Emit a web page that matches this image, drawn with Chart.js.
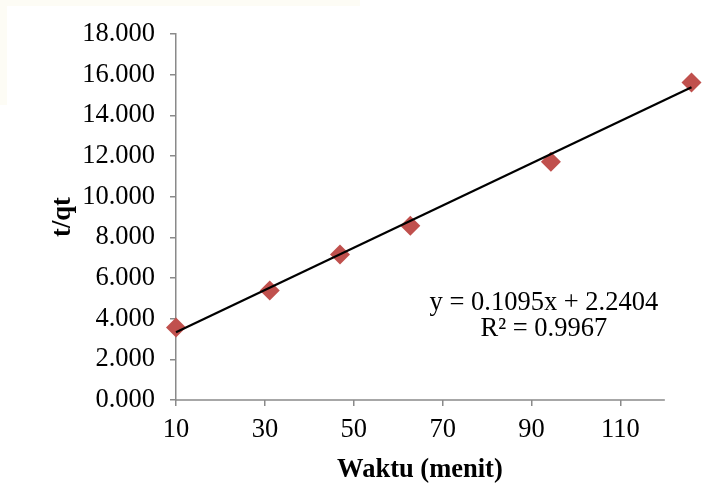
<!DOCTYPE html>
<html lang="id">
<head>
<meta charset="UTF-8">
<title>t/qt terhadap Waktu</title>
<script src="https://cdn.jsdelivr.net/npm/chart.js"></script>
<style>
  html, body { margin: 0; padding: 0; background: #fff; }
  #wrap { position: absolute; left: 0; top: 0; width: 702px; height: 484px; }
</style>
</head>
<body>
<div id="wrap"><canvas id="kinetika"></canvas></div>
<script>
// data pengamatan
const waktu = [10, 30, 45, 60, 90, 120];
const tqt = [3.56, 5.38, 7.15, 8.57, 11.72, 15.61];

// garis regresi linear
const slope = 0.1095;
const intercept = 2.2404;
const rSquared = 0.9967;

const xTickLabels = [10, 30, 50, 70, 90, 110];
const yTicks = [0, 2, 4, 6, 8, 10, 12, 14, 16, 18];

const serif = "'Liberation Serif', 'Times New Roman', serif";
const axisGray = '#8a8a8a';
const fontSize = 26.5;

const trendX = [waktu[0], waktu[waktu.length - 1]];
const trendPoints = trendX.map(x => ({ x: x, y: slope * x + intercept }));
const obsPoints = waktu.map((x, i) => ({ x: x, y: tqt[i] }));

// latar, garis sumbu x (berhenti di 120 pada sumbu label) dan judul sumbu x
const frame = {
  id: 'frame',
  beforeDraw(chart) {
    const ctx = chart.ctx;
    ctx.save();
    ctx.fillStyle = '#ffffff';
    ctx.fillRect(0, 0, chart.width, chart.height);
    ctx.fillStyle = '#fdfcf5';
    ctx.fillRect(0, 0, 360, 6);
    ctx.fillRect(0, 0, 7, 105);
    ctx.restore();
  },
  afterDraw(chart) {
    const s = chart.scales.xt;
    const x0 = s.getPixelForValue(10) - 1;
    const x1 = s.getPixelForValue(120);
    const ctx = chart.ctx;
    ctx.save();
    ctx.strokeStyle = axisGray;
    ctx.lineWidth = 1.5;
    ctx.beginPath();
    ctx.moveTo(x0, chart.chartArea.bottom);
    ctx.lineTo(x1, chart.chartArea.bottom);
    ctx.stroke();
    ctx.fillStyle = '#000';
    ctx.font = 'bold ' + fontSize + 'px ' + serif;
    ctx.textAlign = 'center';
    ctx.textBaseline = 'middle';
    ctx.fillText('Waktu (menit)', (x0 + x1) / 2, chart.height - 14);
    ctx.restore();
  }
};

// persamaan garis dan R²
const equation = {
  id: 'equation',
  afterDatasetsDraw(chart) {
    const x = chart.scales.x.getPixelForValue(88.5);
    const y = chart.scales.y.getPixelForValue(4.75);
    const ctx = chart.ctx;
    ctx.save();
    ctx.fillStyle = '#000';
    ctx.font = fontSize + 'px ' + serif;
    ctx.textAlign = 'center';
    ctx.textBaseline = 'middle';
    ctx.fillText('y = ' + slope + 'x + ' + intercept, x, y);
    ctx.fillText('R² = ' + rSquared, x, y + 26);
    ctx.restore();
  }
};

new Chart(document.getElementById('kinetika'), {
  type: 'scatter',
  data: {
    datasets: [
      {
        type: 'line',
        data: trendPoints,
        borderColor: '#000',
        borderWidth: 2.2,
        pointRadius: 0,
        fill: false,
        clip: false,
        order: 0
      },
      {
        data: obsPoints,
        pointStyle: 'rectRot',
        pointRadius: 10,
        pointHoverRadius: 10,
        backgroundColor: '#c0504d',
        borderColor: '#c0504d',
        borderWidth: 0,
        clip: false,
        order: 1
      }
    ]
  },
  options: {
    responsive: true,
    maintainAspectRatio: false,
    animation: false,
    layout: { padding: { top: 34, right: 10.5, bottom: 0, left: 0 } },
    plugins: { legend: { display: false }, tooltip: { enabled: false } },
    scales: {
      x: {
        type: 'linear',
        display: false,
        min: 10,
        max: 120
      },
      xt: {
        type: 'linear',
        position: 'bottom',
        min: 10,
        max: 126,
        afterBuildTicks: s => { s.ticks = xTickLabels.map(v => ({ value: v })); },
        afterFit: s => { s.height = 84; },
        grid: {
          drawOnChartArea: false,
          drawTicks: true,
          tickLength: 6,
          tickColor: axisGray,
          lineWidth: 1.5
        },
        border: { display: false },
        ticks: {
          color: '#000',
          font: { family: serif, size: fontSize },
          padding: 8,
          maxRotation: 0,
          autoSkip: false
        }
      },
      y: {
        min: 0,
        max: 18,
        afterBuildTicks: s => { s.ticks = yTicks.map(v => ({ value: v })); },
        afterFit: s => { s.width = 176; },
        grid: {
          drawOnChartArea: false,
          drawTicks: true,
          tickLength: 6,
          tickColor: axisGray,
          lineWidth: 1.5
        },
        border: { display: true, color: axisGray, width: 1.5 },
        ticks: {
          color: '#000',
          font: { family: serif, size: fontSize },
          padding: 15,
          callback: v => v.toFixed(3)
        },
        title: {
          display: true,
          text: 't/qt',
          color: '#000',
          font: { family: serif, size: fontSize, weight: 'bold', lineHeight: 1.2 },
          padding: { top: 47, bottom: 0 }
        }
      }
    }
  },
  plugins: [frame, equation]
});
</script>
</body>
</html>
